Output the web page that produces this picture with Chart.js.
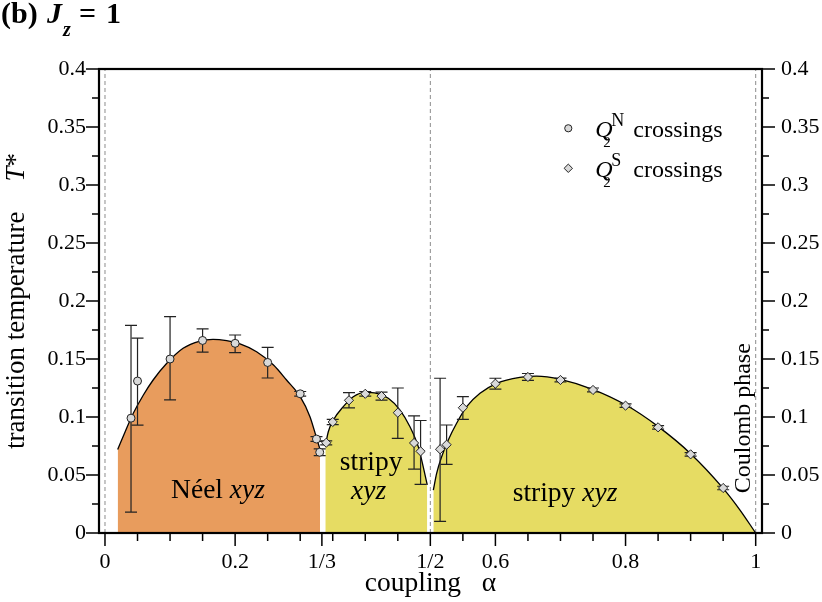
<!DOCTYPE html>
<html><head><meta charset="utf-8">
<script src="https://cdn.jsdelivr.net/npm/chart.js@4.4.1/dist/chart.umd.min.js"></script>
<style>html,body{margin:0;padding:0;background:#fff}#wrap{width:822px;height:602px}</style>
</head><body><div id="wrap"><canvas id="c" width="822" height="602"></canvas></div>
<script>
// ---------- DATA ----------
const xTickValues = [0, 0.2, 1/3, 0.5, 0.6, 0.8, 1];
const xTickLabels = ['0', '0.2', '1/3', '1/2', '0.6', '0.8', '1'];
const yTickValues = [0, 0.05, 0.1, 0.15, 0.2, 0.25, 0.3, 0.35, 0.4];
const yTickLabels = ['0', '0.05', '0.1', '0.15', '0.2', '0.25', '0.3', '0.35', '0.4'];
const vLinesX = [0, 0.5, 1];

// phase boundary curves
const neelCurveX = [0.0195, 0.031, 0.0435, 0.059, 0.074, 0.095, 0.120, 0.146, 0.166, 0.187, 0.2075, 0.233, 0.259, 0.279, 0.300, 0.315, 0.3253, 0.3305];
const neelCurveY = [0.072, 0.0873, 0.1032, 0.119, 0.1319, 0.1463, 0.1592, 0.1655, 0.167, 0.1658, 0.163, 0.1563, 0.1448, 0.1319, 0.1175, 0.1003, 0.0816, 0.072];
const stripy1CurveX = [0.3386, 0.3432, 0.3509, 0.3662, 0.3816, 0.3996, 0.4176, 0.4354, 0.4534, 0.4687, 0.4815, 0.4867, 0.4953];
const stripy1CurveY = [0.075, 0.0873, 0.0974, 0.1089, 0.1175, 0.1213, 0.1204, 0.1161, 0.106, 0.0916, 0.0744, 0.0629, 0.0414];
const stripy2CurveX = [0.5046, 0.5097, 0.5174, 0.5276, 0.5404, 0.5558, 0.5763, 0.602, 0.6375, 0.6633, 0.700, 0.7494, 0.8007, 0.8503, 0.900, 0.950, 0.9759, 1.0];
const stripy2CurveY = [0.037, 0.0514, 0.0658, 0.0802, 0.0946, 0.1089, 0.1204, 0.129, 0.1342, 0.1353, 0.1325, 0.1239, 0.1103, 0.0917, 0.0684, 0.0385, 0.0198, 0.0];

// Q2^N crossings (circles)
const qnX  = [0.040, 0.050, 0.100, 0.150, 0.200, 0.250, 0.300, 0.325, 0.330];
const qnY  = [0.099, 0.131, 0.150, 0.166, 0.1635, 0.147, 0.120, 0.081, 0.0696];
const qnHi = [0.179, 0.168, 0.1865, 0.176, 0.1707, 0.160, 0.122, 0.083, 0.0725];
const qnLo = [0.018, 0.093, 0.1147, 0.156, 0.1555, 0.1336, 0.118, 0.079, 0.0667];

// Q2^S crossings (diamonds)
const qsX  = [0.340, 0.350, 0.375, 0.400, 0.425, 0.450, 0.475, 0.485, 0.515, 0.525, 0.550, 0.600, 0.650, 0.700, 0.750, 0.800, 0.850, 0.900, 0.950];
const qsY  = [0.0778, 0.0957, 0.1144, 0.120, 0.118, 0.1037, 0.0776, 0.0704, 0.0722, 0.0761, 0.108, 0.1287, 0.1345, 0.1319, 0.1233, 0.1098, 0.0911, 0.0678, 0.0388];
const qsHi = [0.0795, 0.098, 0.121, 0.122, 0.1215, 0.125, 0.1009, 0.097, 0.1334, 0.0931, 0.1175, 0.1334, 0.1375, 0.1335, 0.125, 0.1113, 0.0926, 0.0693, 0.0403];
const qsLo = [0.076, 0.0935, 0.1078, 0.118, 0.1145, 0.0816, 0.055, 0.042, 0.010, 0.0592, 0.098, 0.124, 0.1315, 0.1303, 0.1216, 0.1083, 0.0896, 0.0663, 0.0373];

// ---------- STYLE ----------
const FONT = "'Liberation Serif', serif";
const ORANGE = '#E89C5D';
const YELLOW = '#E6DC63';
const MARK = '#d9d9d9';
const xMin = -0.0092, xMax = 1.0097;

const zip = (xs, ys) => xs.map((x, i) => ({x, y: ys[i]}));

const datasets = [];
vLinesX.forEach(v => datasets.push({
  data: [{x: v, y: 0}, {x: v, y: 0.4}], borderColor: '#8c8c8c', borderWidth: 1,
  borderDash: [4, 3], pointRadius: 0, fill: false, order: 5
}));
[[neelCurveX, neelCurveY, ORANGE], [stripy1CurveX, stripy1CurveY, YELLOW], [stripy2CurveX, stripy2CurveY, YELLOW]]
  .forEach(([xs, ys, col]) => datasets.push({
    data: zip(xs, ys), backgroundColor: col, borderColor: '#000', borderWidth: 1.3,
    fill: 'origin', pointRadius: 0, cubicInterpolationMode: 'monotone', order: 4
  }));
datasets.push({
  label: 'QS', data: zip(qsX, qsY), showLine: false, pointStyle: 'rectRot', pointRadius: 4.6,
  pointBackgroundColor: MARK, pointBorderColor: '#222', pointBorderWidth: 1, order: 2,
  errHi: qsHi, errLo: qsLo, drawAllErrors: true
});
datasets.push({
  label: 'QN', data: zip(qnX, qnY), showLine: false, pointStyle: 'circle', pointRadius: 4,
  pointBackgroundColor: MARK, pointBorderColor: '#222', pointBorderWidth: 1, order: 1,
  errHi: qnHi, errLo: qnLo
});

const errorBarPlugin = {
  id: 'errbars',
  beforeDatasetDraw(chart, args) {
    const d = chart.data.datasets[args.index];
    if (!d.drawAllErrors) return;
    const ctx = chart.ctx, xs = chart.scales.x, ys = chart.scales.y;
    ctx.save();
    ctx.strokeStyle = '#222'; ctx.lineWidth = 1.2;
    chart.data.datasets.forEach(ds => {
      if (!ds.errHi) return;
      ds.data.forEach((p, i) => {
        const px = xs.getPixelForValue(p.x);
        const y1 = ys.getPixelForValue(ds.errHi[i]);
        const y2 = ys.getPixelForValue(ds.errLo[i]);
        ctx.beginPath();
        ctx.moveTo(px, y1); ctx.lineTo(px, y2);
        ctx.moveTo(px - 6, y1); ctx.lineTo(px + 6, y1);
        ctx.moveTo(px - 6, y2); ctx.lineTo(px + 6, y2);
        ctx.stroke();
      });
    });
    ctx.restore();
  }
};

function drawMarker(ctx, style, x, y, r) {
  ctx.beginPath();
  if (style === 'circle') ctx.arc(x, y, r, 0, Math.PI * 2);
  else { ctx.moveTo(x, y - r); ctx.lineTo(x + r, y); ctx.lineTo(x, y + r); ctx.lineTo(x - r, y); ctx.closePath(); }
  ctx.fillStyle = MARK; ctx.fill();
  ctx.strokeStyle = '#222'; ctx.lineWidth = 1; ctx.stroke();
}

const decorPlugin = {
  id: 'decor',
  afterDraw(chart) {
    const ctx = chart.ctx, a = chart.chartArea, xs = chart.scales.x, ys = chart.scales.y;
    ctx.save();
    // tick marks
    ctx.strokeStyle = '#000'; ctx.lineWidth = 1.5;
    ctx.beginPath();
    for (let k = 0; k <= 20; k++) {
      const v = k * 0.05;
      const px = xs.getPixelForValue(v);
      ctx.moveTo(px, a.bottom); ctx.lineTo(px, a.bottom + 8);
    }
    xTickValues.forEach(v => {
      const px = xs.getPixelForValue(v);
      ctx.moveTo(px, a.bottom); ctx.lineTo(px, a.bottom + 13);
    });
    for (let k = 0; k <= 16; k++) {
      const v = k * 0.025;
      const py = ys.getPixelForValue(v);
      const len = (k % 2 === 0) ? 13 : 7;
      ctx.moveTo(a.left, py); ctx.lineTo(a.left - len, py);
      ctx.moveTo(a.right, py); ctx.lineTo(a.right + len, py);
    }
    ctx.stroke();
    // frame
    ctx.lineWidth = 2.2;
    ctx.strokeRect(a.left, a.top, a.right - a.left, a.bottom - a.top);

    ctx.fillStyle = '#000';
    ctx.textBaseline = 'alphabetic';
    // title
    ctx.textAlign = 'left';
    ctx.font = `bold 30px ${FONT}`; ctx.fillText('(b)', 1, 23);
    ctx.font = `italic bold 30px ${FONT}`; ctx.fillText('J', 47, 23);
    ctx.font = `italic bold 20px ${FONT}`; ctx.fillText('z', 63, 36);
    ctx.font = `bold 30px ${FONT}`; ctx.fillText('=', 79, 23); ctx.fillText('1', 106, 23);

    // y axis title (rotated)
    ctx.save();
    ctx.translate(24, (a.top + a.bottom) / 2);
    ctx.rotate(-Math.PI / 2);
    ctx.font = `27px ${FONT}`;
    const t1 = 'transition temperature';
    const w1 = ctx.measureText(t1).width;
    ctx.font = `italic 27px ${FONT}`;
    const wT = ctx.measureText('T').width;
    ctx.font = `27px ${FONT}`;
    const wS = ctx.measureText('*').width;
    const gap = 30;
    const tot = w1 + gap + wT + wS;
    let cx = -tot / 2;
    ctx.fillText(t1, cx, 0); cx += w1 + gap;
    ctx.font = `italic 27px ${FONT}`; ctx.fillText('T', cx, 0); cx += wT;
    ctx.font = `27px ${FONT}`; ctx.fillText('*', cx, 0);
    ctx.restore();

    // legend
    const lx = xs.getPixelForValue(0.712);
    const rows = [[ys.getPixelForValue(0.3489), 'circle', 'N'], [ys.getPixelForValue(0.3144), 'diamond', 'S']];
    rows.forEach(([my, st, sup]) => {
      drawMarker(ctx, st, lx, my, st === 'circle' ? 3.6 : 4.2);
      ctx.fillStyle = '#000';
      const base = my + 8.5;
      ctx.font = `italic 24px ${FONT}`; ctx.fillText('Q', lx + 27, base);
      ctx.font = `15px ${FONT}`; ctx.fillText('2', lx + 35, base + 10);
      ctx.font = `18px ${FONT}`; ctx.fillText(sup, lx + 43, base - 11);
      ctx.font = `24px ${FONT}`; ctx.fillText('crossings', lx + 65, base);
    });

    // region labels
    const lab = (parts, xv, yv) => {
      let tot = 0;
      parts.forEach(p => { ctx.font = p[1]; p.w = ctx.measureText(p[0]).width; tot += p.w; });
      let x0 = xs.getPixelForValue(xv) - tot / 2;
      const y0 = ys.getPixelForValue(yv);
      parts.forEach(p => { ctx.font = p[1]; ctx.fillText(p[0], x0, y0); x0 += p.w; });
    };
    ctx.fillStyle = '#000';
    const RF = 27.5;
    lab([['Néel ', `${RF}px ${FONT}`], ['xyz', `italic ${RF}px ${FONT}`]], 0.1737, 0.030);
    lab([['stripy', `${RF}px ${FONT}`]], 0.409, 0.054);
    lab([['xyz', `italic ${RF}px ${FONT}`]], 0.405, 0.029);
    lab([['stripy ', `${RF}px ${FONT}`], ['xyz', `italic ${RF}px ${FONT}`]], 0.707, 0.028);

    // Coulomb phase (rotated)
    ctx.save();
    ctx.translate(xs.getPixelForValue(0.992), ys.getPixelForValue(0.099));
    ctx.rotate(-Math.PI / 2);
    ctx.textAlign = 'center';
    ctx.font = `24px ${FONT}`;
    ctx.fillText('Coulomb phase', 0, 0);
    ctx.restore();
    ctx.restore();
  }
};

const tickFont = {family: FONT, size: 22};
new Chart(document.getElementById('c'), {
  type: 'line',
  data: {datasets},
  options: {
    responsive: false, animation: false, events: [], devicePixelRatio: 1,
    layout: {padding: {top: 69, left: 0, right: 0, bottom: 0}},
    plugins: {legend: {display: false}, tooltip: {enabled: false}},
    scales: {
      x: {
        type: 'linear', position: 'bottom', min: xMin, max: xMax,
        afterBuildTicks: s => { s.ticks = xTickValues.map(v => ({value: v})); },
        afterFit: s => { s.height = 69; },
        grid: {display: false, drawTicks: false}, border: {display: false},
        ticks: {autoSkip: false, maxRotation: 0, minRotation: 0, padding: 16, font: tickFont, color: '#000',
          callback: (v, i) => xTickLabels[i]},
        title: {display: true, text: 'coupling   α', font: {family: FONT, size: 27.5}, color: '#000', padding: {top: 0, bottom: 2}}
      },
      y: {
        type: 'linear', position: 'left', min: 0, max: 0.4,
        afterBuildTicks: s => { s.ticks = yTickValues.map(v => ({value: v})); },
        afterFit: s => { s.width = 99; },
        grid: {display: false, drawTicks: false}, border: {display: false},
        ticks: {padding: 13, font: tickFont, color: '#000', callback: (v, i) => yTickLabels[i]}
      },
      y2: {
        type: 'linear', position: 'right', min: 0, max: 0.4,
        afterBuildTicks: s => { s.ticks = yTickValues.map(v => ({value: v})); },
        afterFit: s => { s.width = 60; },
        grid: {display: false, drawTicks: false}, border: {display: false},
        ticks: {padding: 19, font: tickFont, color: '#000', callback: (v, i) => yTickLabels[i]}
      }
    }
  },
  plugins: [errorBarPlugin, decorPlugin]
});
</script>
</body></html>
